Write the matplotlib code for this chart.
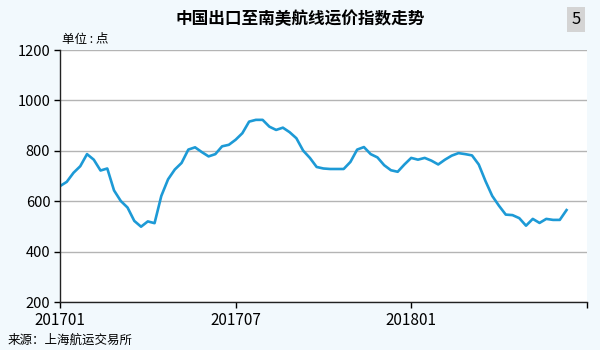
import matplotlib.pyplot as plt
import numpy as np

plt.rcParams['font.family'] = ['Noto Sans CJK SC', 'DejaVu Sans']

# weekly index, first week of 2017 onward
values = [660, 677, 713, 739, 787, 765, 722, 730, 643, 601,
          575, 522, 499, 520, 513, 621, 687, 726, 752, 805,
          814, 795, 778, 787, 818, 824, 844, 870, 916, 923,
          923, 896, 883, 892, 874, 850, 801, 772, 736, 730,
          728, 728, 728, 756, 805, 815, 787, 774, 743, 723,
          717, 746, 772, 765, 772, 761, 746, 765, 781, 791,
          787, 782, 746, 680, 621, 582, 547, 545, 533, 503,
          530, 514, 530, 526, 526, 565]
tick_pos = [0, 26, 52, 78]
tick_labels = ['201701', '201707', '201801', '']
y_ticks = [200, 400, 600, 800, 1000, 1200]

fig = plt.figure(figsize=(6, 3.5), dpi=100, facecolor='#f2f9fd')
ax = fig.add_axes([0.1, 0.137, 0.878, 0.72])
ax.set_facecolor('white')

x = np.arange(len(values))
ax.plot(x, values, color='#1d9ad6', lw=1.9, solid_joinstyle='round')

ax.set_xlim(0, 78)
ax.set_ylim(200, 1200)
ax.set_yticks(y_ticks)
ax.set_xticks(tick_pos)
ax.set_xticklabels(tick_labels)
ax.grid(axis='y', color='#b4b4b4', lw=1.0)
ax.set_axisbelow(True)

for s in ['top', 'right']:
    ax.spines[s].set_visible(False)
for s in ['left', 'bottom']:
    ax.spines[s].set_color('#222222')
    ax.spines[s].set_linewidth(1.0)
ax.tick_params(axis='y', length=4, width=1, labelsize=10.5, pad=3)
ax.tick_params(axis='x', length=4, width=1, labelsize=11, pad=3)

fig.text(0.5, 0.945, '中国出口至南美航线运价指数走势', ha='center', va='center',
         fontsize=12, fontweight='bold')
fig.text(0.96, 0.945, '5', ha='center', va='center', fontsize=12,
         bbox=dict(boxstyle='square,pad=0.25', fc='#d4d4d4', ec='none'))
fig.text(0.103, 0.888, '单位 : 点', ha='left', va='center', fontsize=9)
fig.text(0.012, 0.028, '来源：上海航运交易所', ha='left', va='center', fontsize=9)

fig.savefig('out.png', dpi=100, facecolor=fig.get_facecolor())
